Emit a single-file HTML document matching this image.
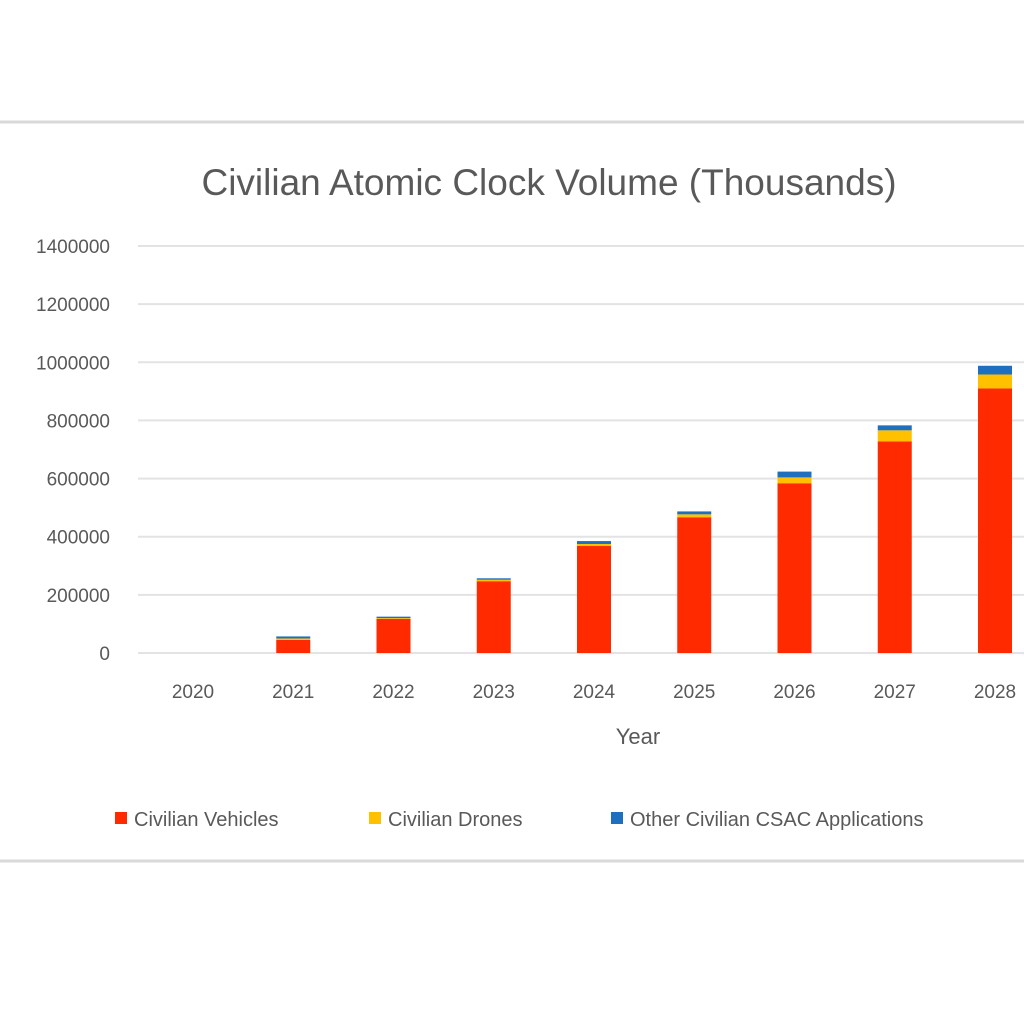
<!DOCTYPE html>
<html><head><meta charset="utf-8"><style>
body{margin:0;background:#fff;}
svg{display:block;font-family:"Liberation Sans",sans-serif;}
</style></head><body>
<svg id="chart" width="1024" height="1024">
<line x1="0" y1="122" x2="1024" y2="122" stroke="#d9d9d9" stroke-width="3"/>
<line x1="0" y1="861" x2="1024" y2="861" stroke="#d9d9d9" stroke-width="3"/>
<text x="549" y="195" font-size="37" fill="#595959" text-anchor="middle">Civilian Atomic Clock Volume (Thousands)</text>
<g id="grid"></g><g id="bars"></g><g id="labels"></g>
<text x="638" y="744" font-size="22" fill="#595959" text-anchor="middle">Year</text>
<g>
<rect x="115" y="812" width="12" height="12" fill="#ff2a00"/>
<text x="134" y="826" font-size="20" fill="#595959">Civilian Vehicles</text>
<rect x="369" y="812" width="12" height="12" fill="#ffc000"/>
<text x="388" y="826" font-size="20" fill="#595959">Civilian Drones</text>
<rect x="611" y="812" width="12" height="12" fill="#1f6fc0"/>
<text x="630" y="826" font-size="20" fill="#595959">Other Civilian CSAC Applications</text>
</g>
</svg>
<script>
const categories=["2020","2021","2022","2023","2024","2025","2026","2027","2028"];
const vehicles=[0,45000,117000,247000,368000,467000,584000,728000,910000];
const drones=[0,5000,3000,5000,7000,10000,20000,38000,48000];
const other=[0,7000,5000,5000,10000,10000,20000,17000,30000];
const ticks=[0,200000,400000,600000,800000,1000000,1200000,1400000];
const NS="http://www.w3.org/2000/svg";
const y0=653,yTop=246,maxV=1400000;
function y(v){return y0-(v/maxV)*(y0-yTop);}
function xc(i){return 193+i*100.25;}
const grid=document.getElementById('grid'),bars=document.getElementById('bars'),labels=document.getElementById('labels');
ticks.forEach(t=>{
 const l=document.createElementNS(NS,'line');
 l.setAttribute('x1',138);l.setAttribute('x2',1024);l.setAttribute('y1',y(t));l.setAttribute('y2',y(t));
 l.setAttribute('stroke','#e3e3e3');l.setAttribute('stroke-width','2');
 
 
 grid.appendChild(l);
 const tx=document.createElementNS(NS,'text');
 tx.setAttribute('x',110);tx.setAttribute('y',y(t)+7);tx.setAttribute('text-anchor','end');
 tx.setAttribute('font-size','19');tx.setAttribute('fill','#595959');tx.textContent=t;
 
 
 labels.appendChild(tx);
});
const series=[[vehicles,'#ff2a00','vehicles'],[drones,'#ffc000','drones'],[other,'#1f6fc0','other']];
categories.forEach((c,i)=>{
 let base=0;
 series.forEach(([arr,col,nm])=>{
  const v=arr[i];if(v>0){
  const r=document.createElementNS(NS,'rect');
  r.setAttribute('x',xc(i)-17);r.setAttribute('width',34);
  r.setAttribute('y',y(base+v));r.setAttribute('height',y(base)-y(base+v));
  r.setAttribute('fill',col);
  
  
  bars.appendChild(r);}
  base+=v;
 });
 const tx=document.createElementNS(NS,'text');
 tx.setAttribute('x',xc(i));tx.setAttribute('y',698);tx.setAttribute('text-anchor','middle');
 tx.setAttribute('font-size','19');tx.setAttribute('fill','#595959');tx.textContent=c;
 
 
 labels.appendChild(tx);
});
</script>
</body></html>
